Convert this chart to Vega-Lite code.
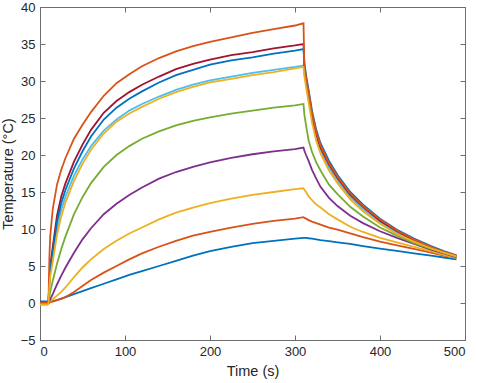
{
  "$schema": "https://vega.github.io/schema/vega-lite/v6.json",
  "width": 425,
  "height": 333,
  "autosize": "none",
  "padding": {"left": 40, "top": 7, "right": 12, "bottom": 43},
  "background": "white",
  "config": {
    "view": {"stroke": "#6e6e6e", "strokeWidth": 1},
    "axis": {
      "domainColor": "#6e6e6e",
      "tickColor": "#6e6e6e",
      "tickSize": -5,
      "labelPadding": 10,
      "grid": false,
      "labelFont": "Liberation Sans",
      "labelFontSize": 13,
      "labelColor": "#262626",
      "titleFont": "Liberation Sans",
      "titleFontSize": 14.5,
      "titleFontWeight": "normal",
      "titleColor": "#262626"
    }
  },
  "data": {
    "values": [
      {"t": 0, "c1": 0.2, "c2": 0.0, "c3": -0.2, "c4": 0, "c5": 0, "c6": 0, "c7": 0, "c8": 0, "c9": 0, "c10": -0.2},
      {"t": 9, "c1": 0.2, "c2": 0.0, "c3": -0.2, "c4": 0, "c5": 0, "c6": 0, "c7": 0, "c8": 0, "c9": 0, "c10": -0.2},
      {"t": 10, "c1": 0.1, "c2": 0.0, "c3": -0.1, "c4": 0, "c5": 0, "c6": 0, "c7": 0, "c8": 0, "c9": 0, "c10": -0.1},
      {"t": 11, "c1": 0.1, "c2": 0.05, "c3": 0.1, "c4": 0.2, "c5": 0.8, "c6": 2.5, "c7": 3.0, "c8": 2.8, "c9": 6.0, "c10": 2.0},
      {"t": 12, "c1": 0.15, "c2": 0.1, "c3": 0.25, "c4": 0.5, "c5": 1.5, "c6": 4.0, "c7": 5.0, "c8": 4.6, "c9": 9.0, "c10": 3.5},
      {"t": 15, "c1": 0.25, "c2": 0.2, "c3": 0.5, "c4": 1.2, "c5": 3.0, "c6": 6.3, "c7": 7.6, "c8": 7.0, "c9": 12.7, "c10": 5.6},
      {"t": 20, "c1": 0.4, "c2": 0.4, "c3": 1.0, "c4": 2.5, "c5": 5.3, "c6": 10.0, "c7": 11.8, "c8": 11.0, "c9": 16.0, "c10": 9.2},
      {"t": 25, "c1": 0.6, "c2": 0.55, "c3": 1.5, "c4": 3.7, "c5": 7.3, "c6": 12.6, "c7": 14.4, "c8": 13.5, "c9": 18.0, "c10": 11.7},
      {"t": 30, "c1": 0.8, "c2": 0.8, "c3": 2.1, "c4": 4.8, "c5": 9.0, "c6": 14.4, "c7": 16.2, "c8": 15.3, "c9": 19.6, "c10": 13.6},
      {"t": 40, "c1": 1.2, "c2": 1.5, "c3": 3.5, "c4": 6.8, "c5": 12.0, "c6": 17.2, "c7": 19.1, "c8": 18.2, "c9": 22.2, "c10": 16.5},
      {"t": 50, "c1": 1.6, "c2": 2.3, "c3": 4.8, "c4": 8.6, "c5": 14.3, "c6": 19.4, "c7": 21.4, "c8": 20.5, "c9": 24.1, "c10": 18.8},
      {"t": 60, "c1": 2.0, "c2": 3.1, "c3": 5.9, "c4": 10.1, "c5": 16.2, "c6": 21.2, "c7": 23.4, "c8": 22.5, "c9": 25.8, "c10": 20.7},
      {"t": 75, "c1": 2.6, "c2": 4.1, "c3": 7.3, "c4": 12.0, "c5": 18.4, "c6": 23.3, "c7": 25.7, "c8": 24.8, "c9": 28.0, "c10": 22.9},
      {"t": 90, "c1": 3.2, "c2": 5.0, "c3": 8.4, "c4": 13.4, "c5": 20.0, "c6": 24.8, "c7": 27.3, "c8": 26.4, "c9": 29.7, "c10": 24.5},
      {"t": 105, "c1": 3.8, "c2": 5.9, "c3": 9.4, "c4": 14.6, "c5": 21.2, "c6": 26.0, "c7": 28.5, "c8": 27.6, "c9": 30.9, "c10": 25.6},
      {"t": 120, "c1": 4.3, "c2": 6.7, "c3": 10.2, "c4": 15.6, "c5": 22.2, "c6": 26.9, "c7": 29.5, "c8": 28.6, "c9": 32.0, "c10": 26.5},
      {"t": 140, "c1": 5.0, "c2": 7.6, "c3": 11.3, "c4": 16.8, "c5": 23.2, "c6": 27.9, "c7": 30.6, "c8": 29.8, "c9": 33.1, "c10": 27.6},
      {"t": 160, "c1": 5.7, "c2": 8.4, "c3": 12.2, "c4": 17.7, "c5": 24.0, "c6": 28.8, "c7": 31.6, "c8": 30.8, "c9": 34.0, "c10": 28.5},
      {"t": 180, "c1": 6.4, "c2": 9.1, "c3": 12.9, "c4": 18.4, "c5": 24.6, "c6": 29.5, "c7": 32.3, "c8": 31.5, "c9": 34.7, "c10": 29.2},
      {"t": 200, "c1": 7.0, "c2": 9.6, "c3": 13.5, "c4": 19.0, "c5": 25.1, "c6": 30.1, "c7": 32.9, "c8": 32.2, "c9": 35.3, "c10": 29.8},
      {"t": 225, "c1": 7.6, "c2": 10.2, "c3": 14.1, "c4": 19.6, "c5": 25.6, "c6": 30.6, "c7": 33.5, "c8": 32.8, "c9": 35.9, "c10": 30.3},
      {"t": 250, "c1": 8.1, "c2": 10.7, "c3": 14.6, "c4": 20.1, "c5": 26.0, "c6": 31.1, "c7": 33.9, "c8": 33.2, "c9": 36.5, "c10": 30.8},
      {"t": 275, "c1": 8.4, "c2": 11.1, "c3": 15.0, "c4": 20.5, "c5": 26.4, "c6": 31.5, "c7": 34.4, "c8": 33.7, "c9": 37.0, "c10": 31.2},
      {"t": 300, "c1": 8.7, "c2": 11.4, "c3": 15.4, "c4": 20.8, "c5": 26.7, "c6": 31.9, "c7": 34.8, "c8": 34.1, "c9": 37.5, "c10": 31.7},
      {"t": 310, "c1": 8.8, "c2": 11.6, "c3": 15.5, "c4": 21.0, "c5": 26.9, "c6": 32.1, "c7": 35.0, "c8": 34.3, "c9": 37.8, "c10": 31.9},
      {"t": 311, "c1": 8.8, "c2": 11.5, "c3": 15.3, "c4": 20.6, "c5": 25.5, "c6": 31.0, "c7": 32.0, "c8": 32.5, "c9": 32.0, "c10": 30.7},
      {"t": 313, "c1": 8.8, "c2": 11.4, "c3": 15.0, "c4": 20.0, "c5": 24.0, "c6": 29.6, "c7": 30.2, "c8": 30.8, "c9": 30.4, "c10": 29.2},
      {"t": 316, "c1": 8.75, "c2": 11.2, "c3": 14.4, "c4": 19.2, "c5": 22.0, "c6": 27.6, "c7": 28.2, "c8": 28.8, "c9": 28.5, "c10": 27.1},
      {"t": 320, "c1": 8.7, "c2": 11.0, "c3": 13.9, "c4": 18.0, "c5": 20.4, "c6": 24.9, "c7": 25.4, "c8": 26.0, "c9": 25.7, "c10": 24.4},
      {"t": 325, "c1": 8.6, "c2": 10.8, "c3": 13.3, "c4": 16.8, "c5": 19.0, "c6": 22.4, "c7": 22.8, "c8": 23.4, "c9": 23.1, "c10": 21.9},
      {"t": 330, "c1": 8.5, "c2": 10.6, "c3": 12.9, "c4": 15.7, "c5": 17.9, "c6": 20.6, "c7": 21.0, "c8": 21.6, "c9": 21.3, "c10": 20.2},
      {"t": 340, "c1": 8.35, "c2": 10.2, "c3": 12.0, "c4": 14.2, "c5": 16.0, "c6": 18.3, "c7": 18.7, "c8": 19.2, "c9": 18.9, "c10": 17.9},
      {"t": 350, "c1": 8.2, "c2": 9.9, "c3": 11.3, "c4": 13.1, "c5": 14.7, "c6": 16.5, "c7": 16.9, "c8": 17.3, "c9": 17.1, "c10": 16.2},
      {"t": 365, "c1": 8.0, "c2": 9.4, "c3": 10.3, "c4": 11.8, "c5": 13.0, "c6": 14.3, "c7": 14.6, "c8": 15.0, "c9": 14.8, "c10": 14.0},
      {"t": 380, "c1": 7.7, "c2": 8.9, "c3": 9.6, "c4": 10.8, "c5": 11.7, "c6": 12.7, "c7": 13.0, "c8": 13.3, "c9": 13.1, "c10": 12.4},
      {"t": 400, "c1": 7.35, "c2": 8.3, "c3": 8.8, "c4": 9.7, "c5": 10.2, "c6": 10.9, "c7": 11.1, "c8": 11.4, "c9": 11.3, "c10": 10.7},
      {"t": 420, "c1": 7.05, "c2": 7.8, "c3": 8.2, "c4": 8.8, "c5": 9.1, "c6": 9.5, "c7": 9.7, "c8": 9.9, "c9": 9.8, "c10": 9.3},
      {"t": 440, "c1": 6.7, "c2": 7.3, "c3": 7.6, "c4": 8.0, "c5": 8.1, "c6": 8.4, "c7": 8.5, "c8": 8.7, "c9": 8.6, "c10": 8.3},
      {"t": 460, "c1": 6.4, "c2": 6.8, "c3": 7.0, "c4": 7.2, "c5": 7.3, "c6": 7.45, "c7": 7.55, "c8": 7.7, "c9": 7.6, "c10": 7.4},
      {"t": 475, "c1": 6.15, "c2": 6.4, "c3": 6.5, "c4": 6.7, "c5": 6.8, "c6": 6.85, "c7": 6.9, "c8": 7.0, "c9": 6.95, "c10": 6.8},
      {"t": 490, "c1": 5.9, "c2": 6.1, "c3": 6.1, "c4": 6.2, "c5": 6.3, "c6": 6.3, "c7": 6.35, "c8": 6.45, "c9": 6.4, "c10": 6.3}
    ]
  },
  "transform": [
    {"fold": ["c1", "c2", "c3", "c4", "c5", "c6", "c7", "c8", "c9", "c10"], "as": ["series", "temp"]}
  ],
  "layer": [
    {
      "mark": {"type": "line", "strokeWidth": 1.8, "clip": true},
      "encoding": {
        "x": {
          "field": "t", "type": "quantitative",
          "scale": {"domain": [0, 500], "nice": false, "zero": false},
          "axis": {"values": [0, 100, 200, 300, 400, 500], "title": "Time (s)", "titlePadding": 6}
        },
        "y": {
          "field": "temp", "type": "quantitative",
          "scale": {"domain": [-5, 40], "nice": false, "zero": false},
          "axis": {"values": [-5, 0, 5, 10, 15, 20, 25, 30, 35, 40], "title": "Temperature (°C)", "titlePadding": 5}
        },
        "color": {
          "field": "series", "type": "nominal",
          "scale": {
            "domain": ["c1", "c2", "c3", "c4", "c5", "c6", "c7", "c8", "c9", "c10"],
            "range": ["#0072BD", "#D95319", "#EDB120", "#7E2F8E", "#77AC30", "#4DBEEE", "#A2142F", "#0072BD", "#D95319", "#EDB120"]
          },
          "legend": null
        },
        "order": {"field": "t", "type": "quantitative"}
      }
    },
    {
      "mark": {"type": "line", "opacity": 0},
      "encoding": {
        "x": {
          "field": "t", "type": "quantitative",
          "scale": {"domain": [0, 500], "nice": false, "zero": false},
          "axis": {"orient": "top", "values": [0, 100, 200, 300, 400, 500], "labels": false, "title": null}
        },
        "y": {
          "field": "temp", "type": "quantitative",
          "scale": {"domain": [-5, 40], "nice": false, "zero": false},
          "axis": {"orient": "right", "values": [-5, 0, 5, 10, 15, 20, 25, 30, 35, 40], "labels": false, "title": null}
        },
        "detail": {"field": "series", "type": "nominal"}
      }
    }
  ],
  "resolve": {"axis": {"x": "independent", "y": "independent"}}
}
